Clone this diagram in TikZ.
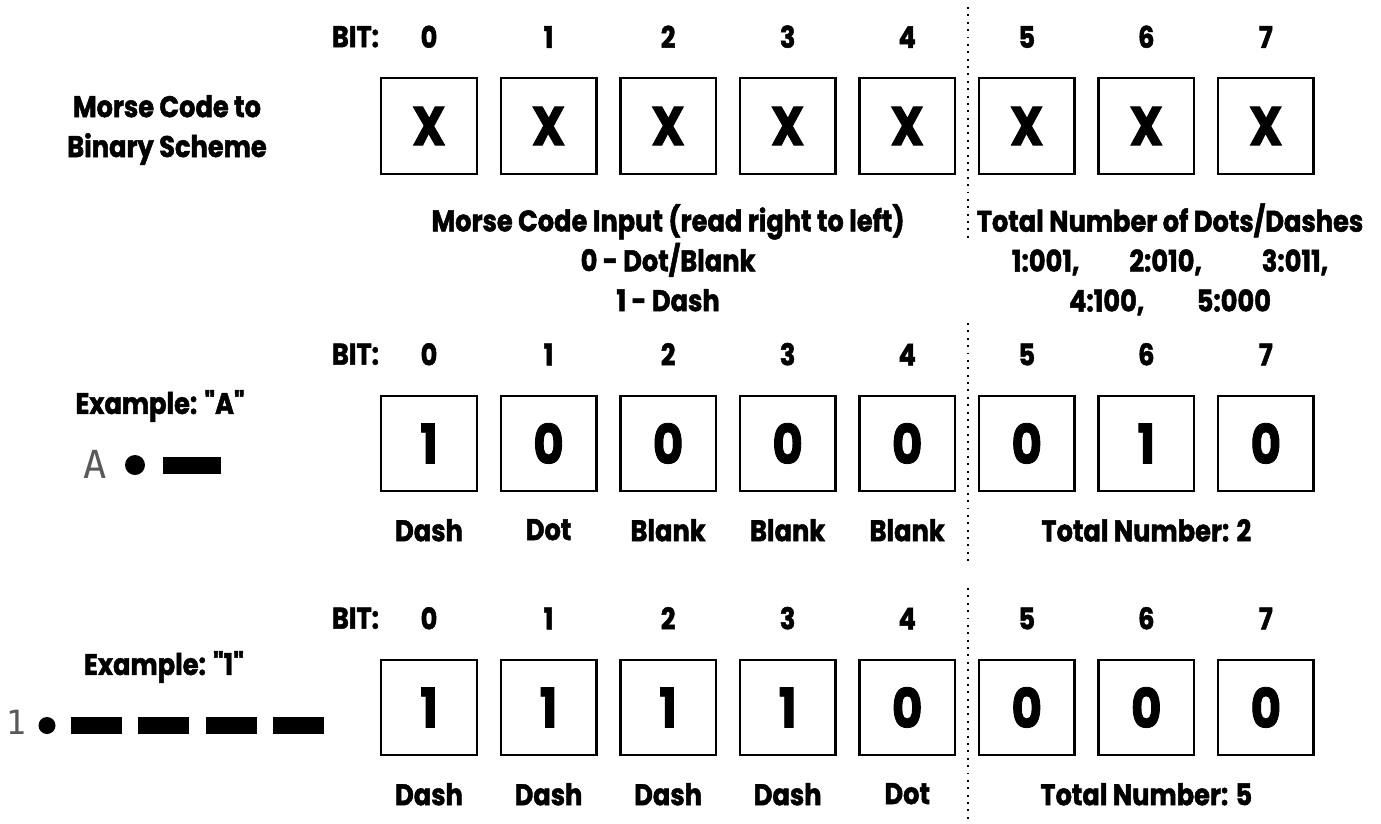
\documentclass[tikz,border=0pt]{standalone}
\usepackage{fontspec}
\setmainfont{Poppins}[Ligatures=TeXOff, FakeStretch=0.86, BoldFeatures={FakeBold=1.6}]
\newfontfamily\morsefont{DejaVu Sans Mono}
\usetikzlibrary{positioning}

\begin{document}
\begin{tikzpicture}[
  bitbox/.style={draw, line width=1.4pt, minimum size=1.91cm, inner sep=0pt, outer sep=0pt, font=\fontsize{31}{31}\selectfont\bfseries},
  bitnum/.style={inner sep=0pt, font=\fontsize{17}{22.7}\selectfont\bfseries},
  note/.style={inner sep=0pt, align=center, font=\fontsize{17}{22.7}\selectfont\bfseries},
  morse/.style={inner sep=0pt, text=black!65},
  divider/.style={line width=1.1pt, dash pattern=on 1.1pt off 3.1pt},
  node distance=0.481cm
]
\useasboundingbox (0,0) rectangle (27.62,-16.48);

% Scheme: one byte, bits 0-4 the code, bits 5-7 the count.
\node[note] (title) at (3.34,-2.6) {Morse Code to\\Binary Scheme};
\node[bitbox] (a0) at (8.58,-2.52) {X};
\node[bitbox, right=of a0] (a1) {X};
\node[bitbox, right=of a1] (a2) {X};
\node[bitbox, right=of a2] (a3) {X};
\node[bitbox, right=of a3] (a4) {X};
\node[bitbox, right=of a4] (a5) {X};
\node[bitbox, right=of a5] (a6) {X};
\node[bitbox, right=of a6] (a7) {X};

\node[bitnum, above=0.6cm of a0] (an0) {0};
\node[bitnum, left=0.82cm of an0] (abit) {BIT:};
\node[bitnum, above=0.6cm of a1] (an1) {1};
\node[bitnum, above=0.6cm of a2] (an2) {2};
\node[bitnum, above=0.6cm of a3] (an3) {3};
\node[bitnum, above=0.6cm of a4] (an4) {4};
\node[bitnum, above=0.6cm of a5] (an5) {5};
\node[bitnum, above=0.6cm of a6] (an6) {6};
\node[bitnum, above=0.6cm of a7] (an7) {7};

\node[note, below=0.6cm of a2] (inputnote) {Morse Code Input (read right to left)\\0 - Dot/Blank\\1 - Dash};
\node[note, anchor=north] (countnote) at (23.4,-4.06) {Total Number of Dots/Dashes\\1:001,\hspace{1.0cm}2:010,\hspace{1.2cm}3:011,\\4:100,\hspace{1.05cm}5:000};

% Example "A"
\node[note] (exA) at (3.2,-8.12) {Example: "A"};
\node[morse, font=\morsefont\fontsize{22}{22}\selectfont] (letterA) at (1.9,-9.28) {A};
\fill (2.7,-9.3) circle (0.2);
\fill (3.26,-9.14) rectangle (4.42,-9.48);

\node[bitbox] (b0) at (8.58,-8.87) {1};
\node[bitbox, right=of b0] (b1) {0};
\node[bitbox, right=of b1] (b2) {0};
\node[bitbox, right=of b2] (b3) {0};
\node[bitbox, right=of b3] (b4) {0};
\node[bitbox, right=of b4] (b5) {0};
\node[bitbox, right=of b5] (b6) {1};
\node[bitbox, right=of b6] (b7) {0};

\node[bitnum, above=0.6cm of b0] (bn0) {0};
\node[bitnum, left=0.82cm of bn0] (bbit) {BIT:};
\node[bitnum, above=0.6cm of b1] (bn1) {1};
\node[bitnum, above=0.6cm of b2] (bn2) {2};
\node[bitnum, above=0.6cm of b3] (bn3) {3};
\node[bitnum, above=0.6cm of b4] (bn4) {4};
\node[bitnum, above=0.6cm of b5] (bn5) {5};
\node[bitnum, above=0.6cm of b6] (bn6) {6};
\node[bitnum, above=0.6cm of b7] (bn7) {7};

\node[note, below=0.55cm of b0] (bl0) {Dash};
\node[note, below=0.55cm of b1] (bl1) {Dot};
\node[note, below=0.55cm of b2] (bl2) {Blank};
\node[note, below=0.55cm of b3] (bl3) {Blank};
\node[note, below=0.55cm of b4] (bl4) {Blank};
\node[note, below=0.55cm of b6] (btotal) {Total Number: 2};

% Example "1"
\node[note] (ex1) at (3.28,-13.34) {Example: "1"};
\node[morse, font=\morsefont\fontsize{19}{19}\selectfont] (digit1) at (0.32,-14.44) {1};
\fill (0.94,-14.51) circle (0.17);
\fill (1.42,-14.34) rectangle (2.44,-14.68);
\fill (2.76,-14.34) rectangle (3.78,-14.68);
\fill (4.12,-14.34) rectangle (5.14,-14.68);
\fill (5.46,-14.34) rectangle (6.48,-14.68);

\node[bitbox] (c0) at (8.58,-14.15) {1};
\node[bitbox, right=of c0] (c1) {1};
\node[bitbox, right=of c1] (c2) {1};
\node[bitbox, right=of c2] (c3) {1};
\node[bitbox, right=of c3] (c4) {0};
\node[bitbox, right=of c4] (c5) {0};
\node[bitbox, right=of c5] (c6) {0};
\node[bitbox, right=of c6] (c7) {0};

\node[bitnum, above=0.6cm of c0] (cn0) {0};
\node[bitnum, left=0.82cm of cn0] (cbit) {BIT:};
\node[bitnum, above=0.6cm of c1] (cn1) {1};
\node[bitnum, above=0.6cm of c2] (cn2) {2};
\node[bitnum, above=0.6cm of c3] (cn3) {3};
\node[bitnum, above=0.6cm of c4] (cn4) {4};
\node[bitnum, above=0.6cm of c5] (cn5) {5};
\node[bitnum, above=0.6cm of c6] (cn6) {6};
\node[bitnum, above=0.6cm of c7] (cn7) {7};

\node[note, below=0.55cm of c0] (cl0) {Dash};
\node[note, below=0.55cm of c1] (cl1) {Dash};
\node[note, below=0.55cm of c2] (cl2) {Dash};
\node[note, below=0.55cm of c3] (cl3) {Dash};
\node[note, below=0.55cm of c4] (cl4) {Dot};
\node[note, below=0.55cm of c6] (ctotal) {Total Number: 5};

% dotted split between code bits and count bits
\draw[divider] (19.36,-0.14) -- (19.36,-4.86);
\draw[divider] (19.36,-6.46) -- (19.36,-11.24);
\draw[divider] (19.36,-11.76) -- (19.36,-16.48);
\end{tikzpicture}
\end{document}
